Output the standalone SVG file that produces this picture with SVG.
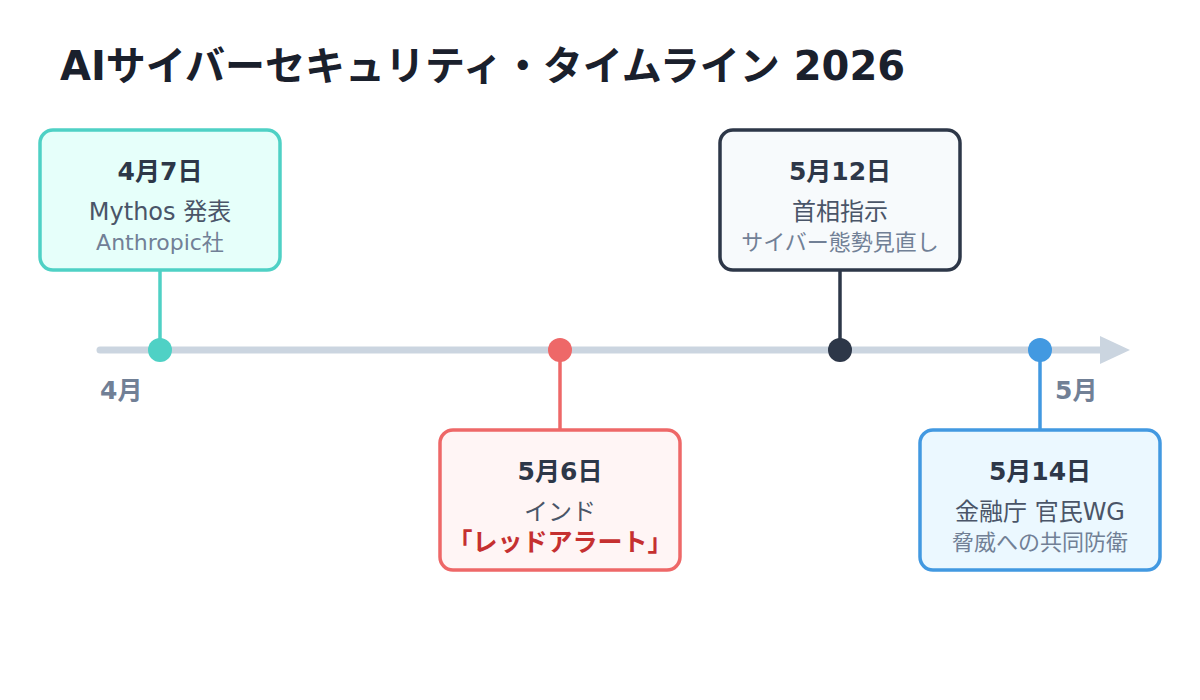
<svg xmlns="http://www.w3.org/2000/svg" width="1200" height="700" viewBox="0 0 1200 700">
<style>
text{font-family:"DejaVu Sans","Noto Sans CJK JP",sans-serif;}
.title{font-size:40px;font-weight:bold;fill:#1a202c;}
.date{font-size:25px;font-weight:bold;fill:#2d3748;text-anchor:middle;}
.main{font-size:24px;fill:#4a5568;text-anchor:middle;}
.sub{font-size:22px;fill:#718096;text-anchor:middle;}
.alert{font-size:25px;font-weight:bold;fill:#c53030;text-anchor:middle;}
.month{font-size:25px;font-weight:bold;fill:#718096;}
.box{stroke-width:3.5;}
</style>
<rect width="1200" height="700" fill="#ffffff"/>
<text class="title" x="60" y="80">AIサイバーセキュリティ・タイムライン 2026</text>
<g id="connectors">
<line x1="100" y1="350" x2="1105" y2="350" stroke="#cbd5e0" stroke-width="7" stroke-linecap="round"/>
<polygon points="1100,336 1130,350 1100,364" fill="#cbd5e0"/>
<line x1="160" y1="270" x2="160" y2="350" stroke="#4fd1c5" stroke-width="3.5"/>
<line x1="560" y1="350" x2="560" y2="430" stroke="#ee6868" stroke-width="3.5"/>
<line x1="840" y1="270" x2="840" y2="350" stroke="#2d3748" stroke-width="3.5"/>
<line x1="1040" y1="350" x2="1040" y2="430" stroke="#4299e1" stroke-width="3.5"/>
<circle cx="160" cy="350" r="12" fill="#4fd1c5"/>
<circle cx="560" cy="350" r="12" fill="#ee6868"/>
<circle cx="840" cy="350" r="12" fill="#2d3748"/>
<circle cx="1040" cy="350" r="12" fill="#4299e1"/>
</g>
<text class="month" x="100" y="399">4月</text>
<text class="month" x="1055" y="399">5月</text>
<g id="n1">
<rect class="box" x="40" y="130" width="240" height="140" rx="13" fill="#e6fffa" stroke="#4fd1c5"/>
<text class="date" x="160" y="180">4月7日</text>
<text class="main" x="160" y="220">Mythos 発表</text>
<text class="sub" x="160" y="250">Anthropic社</text>
</g>
<g id="n2">
<rect class="box" x="440" y="430" width="240" height="140" rx="13" fill="#fff5f5" stroke="#ee6868"/>
<text class="date" x="560" y="480">5月6日</text>
<text class="main" x="560" y="520">インド</text>
<text class="alert" x="560" y="551">「レッドアラート」</text>
</g>
<g id="n3">
<rect class="box" x="720" y="130" width="240" height="140" rx="13" fill="#f7fafc" stroke="#2d3748"/>
<text class="date" x="840" y="180">5月12日</text>
<text class="main" x="840" y="220">首相指示</text>
<text class="sub" x="840" y="250">サイバー態勢見直し</text>
</g>
<g id="n4">
<rect class="box" x="920" y="430" width="240" height="140" rx="13" fill="#ebf8ff" stroke="#4299e1"/>
<text class="date" x="1040" y="480">5月14日</text>
<text class="main" x="1040" y="520">金融庁 官民WG</text>
<text class="sub" x="1040" y="550">脅威への共同防衛</text>
</g>
</svg>
